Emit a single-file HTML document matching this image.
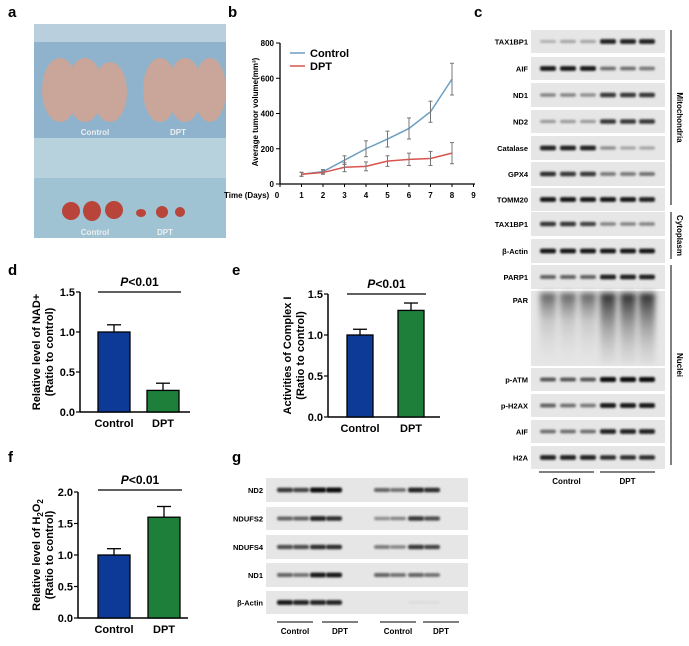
<!DOCTYPE html>
<html><head><meta charset="utf-8"><style>
body{margin:0;background:#fff;}
svg text{font-family:"Liberation Sans",Arial,sans-serif;font-weight:bold;}
</style></head><body>
<svg id="fig" width="689" height="641" viewBox="0 0 689 641" xmlns="http://www.w3.org/2000/svg">
<defs>
<filter id="bl" x="-50%" y="-200%" width="200%" height="500%"><feGaussianBlur stdDeviation="1.1"/></filter>
<filter id="bl2" x="-50%" y="-50%" width="200%" height="200%"><feGaussianBlur stdDeviation="3"/></filter>
<linearGradient id="par" x1="0" y1="0" x2="0" y2="1"><stop offset="0" stop-color="#111" stop-opacity="0.9"/><stop offset="0.5" stop-color="#666" stop-opacity="0.5"/><stop offset="1" stop-color="#bbb" stop-opacity="0.2"/></linearGradient>
<linearGradient id="parL" x1="0" y1="0" x2="0" y2="1"><stop offset="0" stop-color="#333" stop-opacity="0.8"/><stop offset="0.4" stop-color="#999" stop-opacity="0.4"/><stop offset="1" stop-color="#ddd" stop-opacity="0.1"/></linearGradient>
</defs>
<g font-size="15">
<text x="8" y="17">a</text>
<text x="228" y="17">b</text>
<text x="474" y="17">c</text>
<text x="8" y="275">d</text>
<text x="232" y="275">e</text>
<text x="8" y="462">f</text>
<text x="232" y="462">g</text>
</g>
<g>
<rect x="34" y="24" width="192" height="114" fill="#8fb3cc"/>
<rect x="34" y="24" width="192" height="18" fill="#b9cfdd"/>
<rect x="34" y="138" width="192" height="100" fill="#9fc3d3"/>
<rect x="34" y="138" width="192" height="40" fill="#b7d2dd"/>
<g fill="#c9a59a">
<ellipse cx="60" cy="90" rx="18" ry="32"/><ellipse cx="85" cy="90" rx="18" ry="32"/><ellipse cx="110" cy="92" rx="17" ry="30"/>
<ellipse cx="160" cy="90" rx="17" ry="32"/><ellipse cx="185" cy="90" rx="17" ry="32"/><ellipse cx="210" cy="90" rx="16" ry="32"/>
</g>
<g fill="#b8443a"><ellipse cx="71" cy="211" rx="9" ry="9"/><ellipse cx="92" cy="211" rx="9" ry="10"/><ellipse cx="114" cy="210" rx="9" ry="9"/>
<ellipse cx="141" cy="213" rx="5" ry="4"/><ellipse cx="162" cy="212" rx="6" ry="6"/><ellipse cx="180" cy="212" rx="5" ry="5"/></g>
<text x="95" y="135" font-size="8" fill="#eee" font-weight="normal" text-anchor="middle">Control</text>
<text x="178" y="135" font-size="8" fill="#eee" font-weight="normal" text-anchor="middle">DPT</text>
<text x="95" y="235" font-size="8" fill="#eee" font-weight="normal" text-anchor="middle">Control</text>
<text x="165" y="235" font-size="8" fill="#eee" font-weight="normal" text-anchor="middle">DPT</text>
</g>
<g id="pb"></g>
<g id="pc"></g>
<g id="pg"></g>
<g id="pd"></g>
<g id="pe"></g>
<g id="pf"></g>
</svg>
<script>
const days=[1,2,3,4,5,6,7,8];
const ctrlVol=[55,70,135,200,255,315,410,595];
const ctrlErr=[12,12,25,45,45,60,60,90];
const dptVol=[55,65,95,100,130,140,145,175];
const dptErr=[10,10,25,25,30,35,40,60];
const bTicks=[0,200,400,600,800];
const barCats=['Control','DPT'];
const nadVals=[1.0,0.27]; const nadErr=[0.09,0.09];
const cpxVals=[1.0,1.3]; const cpxErr=[0.07,0.09];
const h2o2Vals=[1.0,1.6]; const h2o2Err=[0.1,0.17];
const ticks15=[0,0.5,1.0,1.5]; const ticks20=[0,0.5,1.0,1.5,2.0];
const cLabels=['TAX1BP1','AIF','ND1','ND2','Catalase','GPX4','TOMM20','TAX1BP1','β-Actin','PARP1','PAR','p-ATM','p-H2AX','AIF','H2A'];
const cBands=[[0.25,0.3,0.3,0.9,0.9,0.9],[0.95,0.95,0.95,0.55,0.55,0.5],[0.45,0.45,0.4,0.8,0.8,0.8],[0.35,0.35,0.35,0.8,0.8,0.8],[0.9,0.9,0.9,0.4,0.3,0.3],[0.85,0.8,0.8,0.5,0.5,0.55],[0.95,0.95,0.95,0.95,0.95,0.9],[0.8,0.8,0.75,0.45,0.45,0.45],[0.95,0.95,0.95,0.95,0.95,0.95],[0.6,0.6,0.6,0.9,0.9,0.9],[0.6,0.6,0.6,1,1,1],[0.65,0.65,0.65,1,1,1],[0.6,0.55,0.5,0.95,0.95,0.95],[0.55,0.55,0.55,0.9,0.9,0.9],[0.9,0.9,0.9,0.85,0.85,0.85]];
const gLabels=['ND2','NDUFS2','NDUFS4','ND1','β-Actin'];
const gBands=[[0.8,0.75,1,1,0.6,0.55,0.9,0.85],[0.6,0.6,0.9,0.85,0.4,0.45,0.8,0.7],[0.7,0.7,0.85,0.85,0.5,0.45,0.8,0.75],[0.6,0.55,0.95,0.95,0.6,0.55,0.6,0.55],[0.95,0.9,0.9,0.9,0,0,0.05,0.05]];

const NS='http://www.w3.org/2000/svg';
function mk(p,t,a,txt){const e=document.createElementNS(NS,t);for(const k in a)e.setAttribute(k,a[k]);if(txt!==undefined)e.textContent=txt;p.appendChild(e);return e;}

(function(){
const g=document.getElementById('pb');
const x=d=>280+d*21.5, y=v=>184-v*(141/800);
let e=mk(g,'line',{x1:280,y1:y(0),x2:475,y2:y(0),stroke:'#000','stroke-width':1.3});

e=mk(g,'line',{x1:280,y1:y(0),x2:280,y2:y(800),stroke:'#000','stroke-width':1.3});

bTicks.forEach(t=>{mk(g,'line',{x1:276,y1:y(t),x2:280,y2:y(t),stroke:'#000'});
 e=mk(g,'text',{x:274,y:y(t)+3,'font-size':8,'text-anchor':'end'},t);});
for(let d=0;d<=9;d++){mk(g,'line',{x1:x(d),y1:y(0),x2:x(d),y2:y(0)+3,stroke:'#000'});
 if(d>0){e=mk(g,'text',{x:x(d),y:198,'font-size':8,'text-anchor':'middle'},d);}}
e=mk(g,'text',{x:224,y:198,'font-size':8},'Time (Days)');
mk(g,'text',{x:x(0)-3,y:198,'font-size':8,'text-anchor':'middle'},'0');
e=mk(g,'text',{x:0,y:0,'font-size':8,'font-weight':'normal','text-anchor':'middle',transform:'translate(258,112) rotate(-90)'},'Average tumor volume(mm³)');

[[ctrlVol,ctrlErr,'#6a9ec2','control'],[dptVol,dptErr,'#d9534f','dpt']].forEach(([v,er,c,n])=>{
 e=mk(g,'polyline',{points:days.map((d,i)=>x(d)+','+y(v[i])).join(' '),fill:'none',stroke:c,'stroke-width':1.5});
 
 days.forEach((d,i)=>{mk(g,'line',{x1:x(d),y1:y(v[i]-er[i]),x2:x(d),y2:y(v[i]+er[i]),stroke:'#777','stroke-width':1});
  mk(g,'line',{x1:x(d)-2,y1:y(v[i]-er[i]),x2:x(d)+2,y2:y(v[i]-er[i]),stroke:'#777'});
  mk(g,'line',{x1:x(d)-2,y1:y(v[i]+er[i]),x2:x(d)+2,y2:y(v[i]+er[i]),stroke:'#777'});});
});
[['Control','#6a9ec2',53],['DPT','#d9534f',66]].forEach(([t,c,yy])=>{
 e=mk(g,'line',{x1:290,y1:yy,x2:305,y2:yy,stroke:c,'stroke-width':1.5});
 e=mk(g,'text',{x:310,y:yy+4,'font-size':11},t);});
})();

function bar(id,vals,errs,ticks,max,ax,y0,ytop,bx,bw,axLen,title1,title2,tx,pY){
const g=document.getElementById(id);
const y=v=>y0-(v/max)*(y0-ytop);
let e=mk(g,'line',{x1:ax,y1:y0,x2:ax+axLen,y2:y0,stroke:'#000','stroke-width':1.5});
e=mk(g,'line',{x1:ax,y1:y0,x2:ax,y2:ytop,stroke:'#000','stroke-width':1.5});
ticks.forEach(t=>{mk(g,'line',{x1:ax-4,y1:y(t),x2:ax,y2:y(t),stroke:'#000','stroke-width':1.2});
 e=mk(g,'text',{x:ax-5,y:y(t)+4,'font-size':11,'text-anchor':'end'},t.toFixed(1));});
const cols=['#0d3a96','#1e7f3a'];
vals.forEach((v,i)=>{const x0=bx[i];
 e=mk(g,'rect',{x:x0,y:y(v),width:bw,height:y0-y(v),fill:cols[i],stroke:'#000','stroke-width':1.3});
 
 mk(g,'line',{x1:x0+bw/2,y1:y(v),x2:x0+bw/2,y2:y(v+errs[i]),stroke:'#000','stroke-width':1.3});
 mk(g,'line',{x1:x0+bw/2-7,y1:y(v+errs[i]),x2:x0+bw/2+7,y2:y(v+errs[i]),stroke:'#000','stroke-width':1.3});
 e=mk(g,'text',{x:x0+bw/2,y:y0+15,'font-size':11,'text-anchor':'middle'},barCats[i]);});
e=mk(g,'line',{x1:bx[0],y1:pY,x2:bx[1]+bw+2,y2:pY,stroke:'#000','stroke-width':1.3});
e=mk(g,'text',{x:(bx[0]+bx[1]+bw+2)/2,y:pY-6,'font-size':12,'text-anchor':'middle'});
mk(e,'tspan',{'font-style':'italic'},'P');mk(e,'tspan',{},'<0.01');
const cy=(y0+ytop)/2;
e=mk(g,'text',{x:0,y:0,'font-size':11,'text-anchor':'middle',transform:`translate(${tx},${cy}) rotate(-90)`});
title1(e);
mk(g,'text',{x:0,y:0,'font-size':11,'text-anchor':'middle',transform:`translate(${tx+13},${cy}) rotate(-90)`},title2);
}
bar('pd',nadVals,nadErr,ticks15,1.5,80,412,292,[98,147],32,110,e=>{e.textContent='Relative level of NAD+'},'(Ratio to control)',40,292);
bar('pe',cpxVals,cpxErr,ticks15,1.5,328,417,294,[347,398],26,112,e=>{e.textContent='Activities of Complex I'},'(Ratio to control)',291,294);
bar('pf',h2o2Vals,h2o2Err,ticks20,2.0,78,618,492,[98,148],32,110,e=>{e.appendChild(document.createTextNode('Relative level of H'));const s=document.createElementNS(NS,'tspan');s.setAttribute('font-size','8');s.setAttribute('dy','3');s.textContent='2';e.appendChild(s);const o=document.createElementNS(NS,'tspan');o.setAttribute('dy','-3');o.textContent='O';e.appendChild(o);const s2=document.createElementNS(NS,'tspan');s2.setAttribute('font-size','8');s2.setAttribute('dy','3');s2.textContent='2';e.appendChild(s2);},'(Ratio to control)',40,490);

function blot(id,labels,bands,rows,bx0,bx1,lanes,lblX,fs){
const g=document.getElementById(id);
labels.forEach((l,r)=>{const [y0,y1]=rows[r];
 let e=mk(g,'rect',{x:bx0,y:y0,width:bx1-bx0,height:y1-y0,fill:'#e6e6e6'});
 e=mk(g,'text',{x:lblX,y:(y0+y1)/2+3,'font-size':fs,'text-anchor':'end'},l);
 if(l==='PAR'){e.setAttribute('y',y0+12);}
 
 bands[r].forEach((v,i)=>{const cx=lanes[i];
  if(l==='PAR'){e=mk(g,'rect',{x:cx-8,y:y0+2,width:16,height:y1-y0-4,fill:v>0.8?'url(#par)':'url(#parL)',filter:'url(#bl2)'});}
  else{const cy=(y0+y1)/2;e=mk(g,'rect',{x:cx-8,y:cy-1.2-v*1.3,width:16,height:2.4+v*2.6,rx:2,fill:'#000','fill-opacity':Math.min(1,v*0.95),filter:'url(#bl)'});}
  });
});}
const cRows=[[30,53],[57,80],[83,107],[110,133],[136,160],[162,186],[188,211],[212,236],[239,263],[265,289],[291,366],[368,391],[394,417],[420,443],[446,469]];
blot('pc',cLabels,cBands,cRows,531,665,[548,568,588,608,628,647],528,7.5);
const gRows=[[478,502],[507,530],[535,559],[563,587],[591,614]];
blot('pg',gLabels,gBands,gRows,266,468,[285,301,318,334,382,398,416,432],263,7.5);
(function(){
const g=document.getElementById('pc');
[[539,594,'Control'],[600,655,'DPT']].forEach(([a,b,t])=>{mk(g,'line',{x1:a,y1:472,x2:b,y2:472,stroke:'#000'});
 const e=mk(g,'text',{x:(a+b)/2,y:484,'font-size':8,'text-anchor':'middle'},t);});
[[30,205,'Mitochondria'],[212,259,'Cytoplasm'],[265,465,'Nuclei']].forEach(([a,b,t])=>{mk(g,'line',{x1:671,y1:a,x2:671,y2:b,stroke:'#000'});
 const e=mk(g,'text',{x:0,y:0,'font-size':8,'text-anchor':'middle',transform:`translate(677,${(a+b)/2}) rotate(90)`},t);});
const h=document.getElementById('pg');
[[277,313,'Control'],[322,358,'DPT'],[380,416,'Control'],[423,459,'DPT']].forEach(([a,b,t])=>{mk(h,'line',{x1:a,y1:622,x2:b,y2:622,stroke:'#000'});
 const e=mk(h,'text',{x:(a+b)/2,y:634,'font-size':8,'text-anchor':'middle'},t);});
})();
</script>
</body></html>
